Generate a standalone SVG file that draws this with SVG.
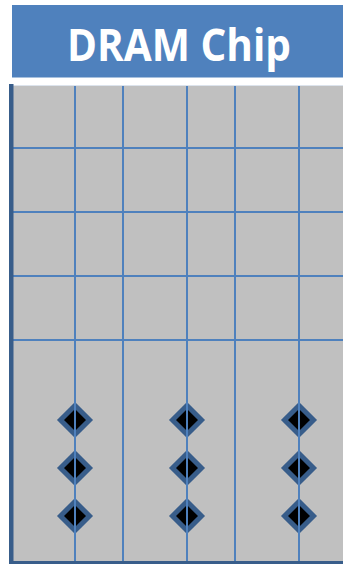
<svg xmlns="http://www.w3.org/2000/svg" width="343" height="564" viewBox="0 0 343 564">
  <style>
    .grid { stroke: #4f81bd; stroke-width: 2; fill: none; }
    .dia { fill: #000000; stroke: #385d8a; stroke-width: 5; stroke-linejoin: miter; }
    .title { font-family: "Open Sans", "Liberation Sans", Arial, sans-serif; font-weight: bold; font-size: 45px; fill: #ffffff; }
  </style>
  <defs>
    <path id="diamond" class="dia" d="M0,-14.5 L14.5,0 L0,14.5 L-14.5,0 Z"/>
  </defs>
  <rect width="343" height="564" fill="#ffffff"/>
  <g id="title">
    <rect x="12" y="5" width="331" height="72.5" fill="#4f81bd"/>
    <text class="title" x="179" y="61" text-anchor="middle" textLength="224" lengthAdjust="spacingAndGlyphs">DRAM Chip</text>
  </g>
  <g id="chip">
    <rect x="9" y="85" width="334" height="479" fill="#c0c0c0"/>
    <line x1="9" y1="85.5" x2="343" y2="85.5" stroke="#dce3ec" stroke-width="1"/>
  </g>
  <g id="diamonds">
    <g id="d1"><use href="#diamond" x="75" y="420"/></g>
    <g id="d2"><use href="#diamond" x="75" y="468"/></g>
    <g id="d3"><use href="#diamond" x="75" y="516"/></g>
    <g id="d4"><use href="#diamond" x="187" y="420"/></g>
    <g id="d5"><use href="#diamond" x="187" y="468"/></g>
    <g id="d6"><use href="#diamond" x="187" y="516"/></g>
    <g id="d7"><use href="#diamond" x="299" y="420"/></g>
    <g id="d8"><use href="#diamond" x="299" y="468"/></g>
    <g id="d9"><use href="#diamond" x="299" y="516"/></g>
  </g>
  <g id="connectors" class="grid">
    <line x1="10" y1="148" x2="343" y2="148"/>
    <line x1="10" y1="212" x2="343" y2="212"/>
    <line x1="10" y1="276" x2="343" y2="276"/>
    <line x1="10" y1="340" x2="343" y2="340"/>
    <line x1="75" y1="86" x2="75" y2="564"/>
    <line x1="123" y1="86" x2="123" y2="564"/>
    <line x1="187" y1="86" x2="187" y2="564"/>
    <line x1="235" y1="86" x2="235" y2="564"/>
    <line x1="299" y1="86" x2="299" y2="564"/>
  </g>
  <g id="frame">
    <rect x="9" y="84" width="4.5" height="480" fill="#385d8a"/>
    <rect x="9" y="561" width="334" height="3" fill="#385d8a"/>
  </g>
</svg>
